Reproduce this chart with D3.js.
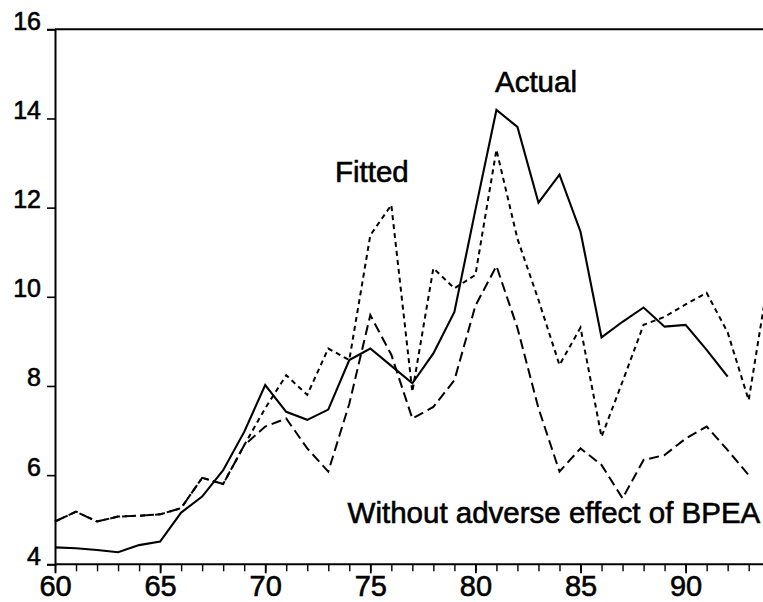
<!DOCTYPE html>
<html>
<head>
<meta charset="utf-8">
<script src="https://cdn.jsdelivr.net/npm/d3@7"></script>
<style>
  html, body { margin: 0; padding: 0; background: #fff; }
  svg { display: block; }
  text { font-family: "Liberation Sans", Arial, Helvetica, sans-serif; fill: #000; }
</style>
</head>
<body>
<svg id="chart" width="763" height="602"></svg>
<script>
// ---- data ----
const years = d3.range(1960, 1995); // 60 .. 94
const actual = [4.38, 4.36, 4.32, 4.27, 4.43, 4.51, 5.16, 5.52, 6.11, 6.97,
                8.02, 7.42, 7.24, 7.47, 8.58, 8.84, 8.45, 8.06, 8.73, 9.66,
                11.95, 14.19, 13.81, 12.11, 12.74, 11.46, 9.09, 9.44, 9.76, 9.33,
                9.37, 8.81, 8.21, null, null];
const fitted = [4.96, 5.18, 4.96, 5.07, 5.09, 5.12, 5.26, 5.94, 5.80, 6.67,
                7.50, 8.24, 7.80, 8.84, 8.58, 11.38, 12.06, 7.87, 10.64, 10.19,
                10.49, 13.30, 11.30, 9.93, 8.47, 9.31, 6.86, 8.10, 9.37, 9.55,
                9.83, 10.09, 9.20, 7.68, 10.60];
const without = [4.96, 5.18, 4.96, 5.07, 5.09, 5.12, 5.26, 5.94, 5.80, 6.67,
                 7.09, 7.27, 6.60, 6.08, 7.60, 9.59, 8.70, 7.27, 7.53, 8.13,
                 9.80, 10.69, 9.30, 7.50, 6.08, 6.60, 6.23, 5.48, 6.34, 6.45,
                 6.82, 7.09, 6.56, 6.00, null];
const yTicks = [4, 6, 8, 10, 12, 14, 16];
const xMajor = [60, 65, 70, 75, 80, 85, 90];
const labels = [
  { text: "Actual", year: 80.93, value: 14.59 },
  { text: "Fitted", year: 73.32, value: 12.58 },
  { text: "Without adverse effect of BPEA", year: 73.92, value: 4.92 }
];

// ---- layout ----
const svg = d3.select("#chart");
const x = d3.scaleLinear().domain([60, 94]).range([55, 769.7]);
const y = d3.scaleLinear().domain([4, 16]).range([564.3, 29.3]);

const lineGen = d3.line()
  .defined(d => d[1] !== null)
  .x(d => x(d[0] - 1900))
  .y(d => y(d[1]));

function series(vals) { return years.map((yr, i) => [yr, vals[i]]); }

// series lines
svg.append("path").datum(series(without))
  .attr("fill", "none").attr("stroke", "#000").attr("stroke-width", 2)
  .attr("stroke-dasharray", "10,5").attr("d", lineGen);
svg.append("path").datum(series(fitted))
  .attr("fill", "none").attr("stroke", "#000").attr("stroke-width", 2)
  .attr("stroke-dasharray", "5,4").attr("d", lineGen);
svg.append("path").datum(series(actual))
  .attr("fill", "none").attr("stroke", "#000").attr("stroke-width", 2.1)
  .attr("d", lineGen);

// frame: top and bottom lines
const x0 = x(60), yTop = y(16), yBot = y(4);
svg.append("line").attr("x1", x0).attr("x2", 763).attr("y1", yTop).attr("y2", yTop)
  .attr("stroke", "#000").attr("stroke-width", 2);
svg.append("line").attr("x1", x0).attr("x2", 763).attr("y1", yBot).attr("y2", yBot)
  .attr("stroke", "#000").attr("stroke-width", 2);

// y axis
const yAxis = d3.axisLeft(y).tickValues(yTicks).tickSize(8).tickPadding(6)
  .tickFormat(d3.format("d"));
const gy = svg.append("g").attr("transform", `translate(${x0},0)`).call(yAxis);
gy.select(".domain").attr("stroke", "#000").attr("stroke-width", 2);
gy.selectAll(".tick line").attr("stroke", "#000").attr("stroke-width", 1.6);
gy.selectAll(".tick text")
  .attr("font-size", 25).attr("dy", 0).attr("y", 0)
  .attr("stroke", "#000").attr("stroke-width", 0.6)
  .style("font-family", "'Liberation Sans', Arial, sans-serif");

// x axis: minor ticks each year
const xAxisMinor = d3.axisBottom(x).tickValues(d3.range(60, 95)).tickSize(7).tickFormat("");
const gxm = svg.append("g").attr("transform", `translate(0,${yBot})`).call(xAxisMinor);
gxm.select(".domain").remove();
gxm.selectAll(".tick line").attr("stroke", "#000").attr("stroke-width", 1.4);

const xAxis = d3.axisBottom(x).tickValues(xMajor).tickSize(9).tickPadding(4)
  .tickFormat(d3.format("d"));
const gx = svg.append("g").attr("transform", `translate(0,${yBot})`).call(xAxis);
gx.select(".domain").remove();
gx.selectAll(".tick line").attr("stroke", "#000").attr("stroke-width", 1.8);
gx.selectAll(".tick text")
  .attr("font-size", 29).attr("dy", 0).attr("y", 32)
  .attr("stroke", "#000").attr("stroke-width", 0.6)
  .style("font-family", "'Liberation Sans', Arial, sans-serif");

// series labels
svg.selectAll("text.lbl").data(labels).enter().append("text")
  .attr("class", "lbl")
  .attr("x", d => x(d.year))
  .attr("y", d => y(d.value))
  .attr("font-size", 29.5)
  .attr("stroke", "#000").attr("stroke-width", 0.6)
  .text(d => d.text);
</script>
</body>
</html>
